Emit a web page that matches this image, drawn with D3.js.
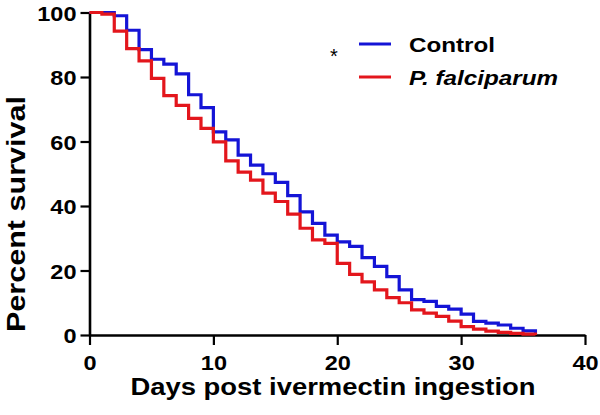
<!DOCTYPE html>
<html>
<head>
<meta charset="utf-8">
<script src="https://cdn.jsdelivr.net/npm/d3@7"></script>
<style>
  html, body { margin: 0; padding: 0; background: #fff; }
  svg { display: block; }
  text { font-family: "Liberation Sans", Arial, sans-serif; font-weight: bold; fill: #000; }
</style>
</head>
<body>
<svg id="chart" width="600" height="415"></svg>
<script>
// ---- data ----
const controlDays   = [0, 2, 3, 4, 5, 6, 7, 8, 9, 10, 11, 12, 13, 14, 15, 16, 17, 18, 19, 20, 21, 22, 23, 24, 25, 26, 27, 28, 29, 30, 31, 32, 33, 34, 35, 36];
const controlValues = [100, 99, 94.5, 88.5, 85.5, 84, 81, 74.5, 70.5, 63, 60.5, 55.8, 52.7, 50, 47.3, 43.2, 38.2, 34.6, 31, 28.9, 27.5, 24, 21.3, 18.1, 14, 11, 10.4, 8.9, 8, 6.5, 4.2, 3.7, 3.1, 2.1, 1.3, 0];
const pfDays        = [0, 1, 2, 3, 4, 5, 6, 7, 8, 9, 10, 11, 12, 13, 14, 15, 16, 17, 18, 19, 20, 21, 22, 23, 24, 25, 26, 27, 28, 29, 30, 31, 32, 33, 34, 35, 36];
const pfValues      = [100, 99.5, 94.2, 88.8, 85, 79.6, 74.2, 71.2, 67.2, 64.1, 59.9, 54, 50.5, 48, 44, 41.4, 37.5, 33.1, 29.5, 28.4, 22.2, 18.8, 16.5, 14, 11.6, 10, 7.8, 6.8, 5.8, 4.3, 2.6, 1.8, 1.2, 0.8, 0.5, 0.3, 0];
const seriesNames   = ["Control", "P. falciparum"];
const xTicks = [0, 10, 20, 30, 40];
const yTicks = [0, 20, 40, 60, 80, 100];
const xTitle = "Days post ivermectin ingestion";
const yTitle = "Percent survival";
const annotation = "*";

// ---- layout ----
const svg = d3.select("#chart");
const x = d3.scaleLinear().domain([0, 40]).range([89.5, 585]);
const y = d3.scaleLinear().domain([0, 100]).range([335, 12.5]);
const colors = { control: "#1414d6", pf: "#e3161c" };

function stretch(sel, factor) {
  sel.each(function () {
    const w = this.getComputedTextLength();
    d3.select(this).attr("textLength", w * factor).attr("lengthAdjust", "spacingAndGlyphs");
  });
}

// axes
const yAxis = svg.append("g")
  .attr("transform", `translate(${x(0)},0)`)
  .call(d3.axisLeft(y).tickValues(yTicks).tickSize(9).tickSizeOuter(0).tickPadding(4));
const xAxis = svg.append("g")
  .attr("transform", `translate(0,${y(0)})`)
  .call(d3.axisBottom(x).tickValues(xTicks).tickSize(10).tickSizeOuter(0).tickPadding(10));

[xAxis, yAxis].forEach(g => {
  g.select(".domain").attr("stroke", "#000").attr("stroke-width", 2.6);
  g.selectAll(".tick line").attr("stroke", "#000").attr("stroke-width", 2.2);
  g.selectAll(".tick text").style("font-size", "21px").style("font-family", '"Liberation Sans", Arial, sans-serif').style("font-weight", "bold").attr("fill", "#000");
});
yAxis.selectAll(".tick text").attr("dy", "0.36em");
xAxis.selectAll(".tick text").attr("y", 20).attr("dy", "0.71em");
stretch(xAxis.selectAll(".tick text"), 1.12);
stretch(yAxis.selectAll(".tick text"), 1.12);

// curves
const line = d3.line().x(d => x(d[0])).y(d => y(d[1])).curve(d3.curveStepAfter);
const controlData = controlDays.map((d, i) => [d, controlValues[i]]);
const pfData = pfDays.map((d, i) => [d, pfValues[i]]);

svg.append("path").datum(controlData)
  .attr("d", line).attr("fill", "none").attr("stroke", colors.control).attr("stroke-width", 3.2);
svg.append("path").datum(pfData)
  .attr("d", line).attr("fill", "none").attr("stroke", colors.pf).attr("stroke-width", 3.2);

// axis titles
const xt = svg.append("text").attr("x", 333).attr("y", 395).attr("text-anchor", "middle")
  .style("font-size", "23px").text(xTitle);
xt.attr("textLength", 405).attr("lengthAdjust", "spacingAndGlyphs");
const yt = svg.append("text").attr("transform", "translate(25,214) rotate(-90)").attr("text-anchor", "middle")
  .style("font-size", "25px").text(yTitle);
yt.attr("textLength", 236).attr("lengthAdjust", "spacingAndGlyphs");

// legend
const legend = svg.append("g");
const legendItems = [
  { name: seriesNames[0], color: colors.control, y: 44, italic: false, len: 86 },
  { name: seriesNames[1], color: colors.pf, y: 77, italic: true, len: 149 }
];
legendItems.forEach(it => {
  legend.append("line").attr("x1", 359).attr("x2", 391).attr("y1", it.y).attr("y2", it.y)
    .attr("stroke", it.color).attr("stroke-width", 3);
  legend.append("text").attr("x", 409).attr("y", it.y + 7.5)
    .style("font-size", "21px").style("font-style", it.italic ? "italic" : "normal")
    .attr("textLength", it.len).attr("lengthAdjust", "spacingAndGlyphs")
    .text(it.name);
});
svg.append("text").attr("x", 334).attr("y", 63).attr("text-anchor", "middle")
  .style("font-size", "20px").style("font-weight", "normal").text(annotation);
</script>
</body>
</html>
